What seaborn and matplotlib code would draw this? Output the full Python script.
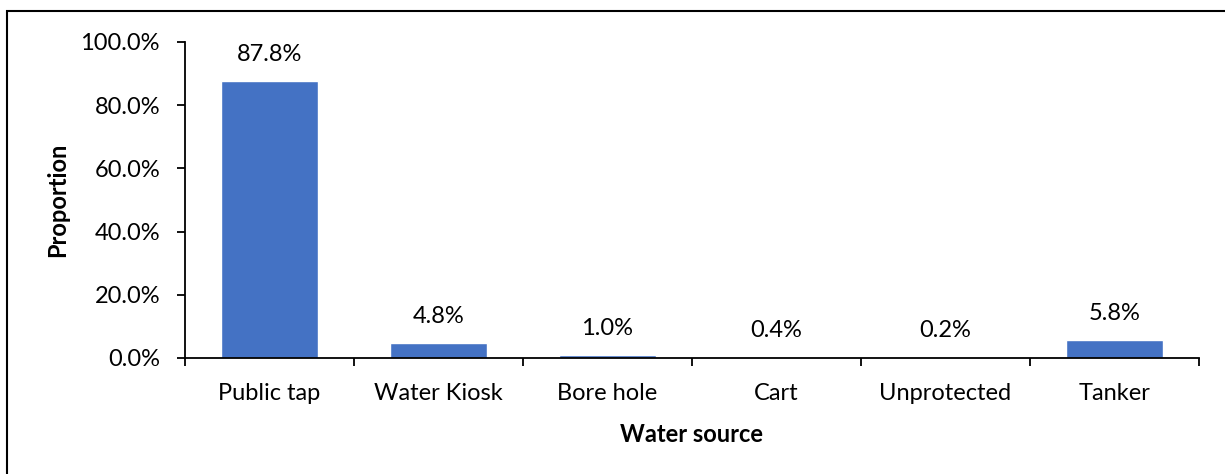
import matplotlib
matplotlib.use("Agg")
import matplotlib.pyplot as plt
import seaborn as sns
import pandas as pd
from matplotlib.patches import Rectangle
from matplotlib.ticker import PercentFormatter, FixedLocator

categories = ["Public tap", "Water Kiosk", "Bore hole", "Cart", "Unprotected", "Tanker"]
proportions = [87.8, 4.8, 1.0, 0.4, 0.2, 5.8]
y_ticks = [0, 20, 40, 60, 80, 100]

sns.set_theme(style="white")
plt.rcParams["font.family"] = ["Lato", "DejaVu Sans"]

FS = 17

df = pd.DataFrame({"Water source": categories, "Proportion": proportions})

fig = plt.figure(figsize=(12.25, 4.74), dpi=100)
ax = fig.add_axes([185 / 1225, 1 - 358 / 474, (1199 - 185) / 1225, (358 - 42) / 474])

sns.barplot(data=df, x="Water source", y="Proportion", color="#4472C4",
            width=0.57, saturation=1, ax=ax)

ax.set_ylim(0, 100)
ax.set_xlim(-0.5, len(categories) - 0.5)
ax.set_yticks(y_ticks)
ax.yaxis.set_major_formatter(PercentFormatter(decimals=1))

for i, v in enumerate(proportions):
    ax.annotate(f"{v:.1f}%", (i, v), xytext=(0, 19), textcoords="offset points",
                ha="center", va="center", fontsize=FS, color="#000000")

# category boundaries carry the tick marks, labels sit at the centres
ax.xaxis.set_major_locator(FixedLocator([i - 0.5 for i in range(len(categories) + 1)]))
ax.xaxis.set_minor_locator(FixedLocator(list(range(len(categories)))))
ax.set_xticklabels([""] * (len(categories) + 1))
ax.set_xticklabels(categories, minor=True)
ax.tick_params(axis="x", which="major", direction="out", length=6, width=1.3,
               color="black", bottom=True)
ax.tick_params(axis="x", which="minor", length=0, pad=18, labelsize=FS, labelcolor="black")
ax.tick_params(axis="y", direction="out", length=6, width=1.3, color="black",
               left=True, labelsize=FS, labelcolor="black", pad=12)

for side in ["top", "right"]:
    ax.spines[side].set_visible(False)
for side in ["left", "bottom"]:
    ax.spines[side].set_color("black")
    ax.spines[side].set_linewidth(1.3)

ax.set_xlabel("Water source", fontsize=FS, fontweight="bold", color="black", labelpad=14)
ax.set_ylabel("Proportion", fontsize=FS, fontweight="bold", color="black", labelpad=8)
ax.grid(False)

fig.patches.append(Rectangle((7 / 1225, -0.05), 1.2, 1 - 11 / 474 + 0.05,
                             transform=fig.transFigure, fill=False,
                             edgecolor="black", linewidth=1.5))

fig.savefig("out.png", dpi=100)
